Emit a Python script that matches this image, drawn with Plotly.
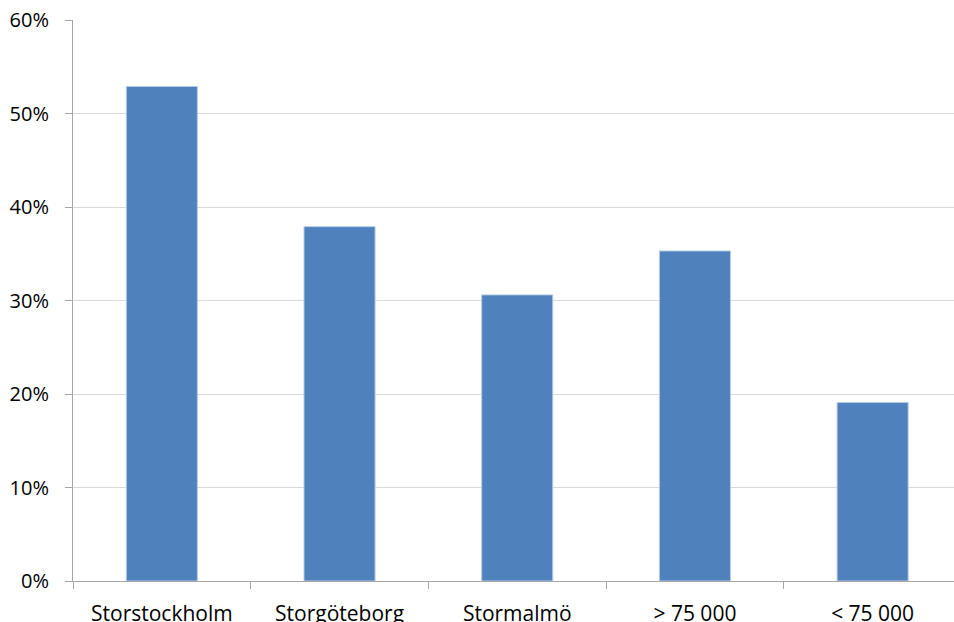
import plotly.graph_objects as go

categories = ["Storstockholm", "Storgöteborg", "Stormalmö", "> 75 000", "< 75 000"]
values = [0.529, 0.379, 0.306, 0.353, 0.191]
y_ticks = [0, 0.1, 0.2, 0.3, 0.4, 0.5, 0.6]
y_tick_labels = ["0%", "10%", "20%", "30%", "40%", "50%", "60%"]

fig = go.Figure(go.Bar(
    x=categories, y=values, width=0.4,
    marker=dict(color="#4F81BD", line=dict(color="#B9CDE5", width=1)),
))

family = "Open Sans, Liberation Sans, sans-serif"
fig.update_layout(
    width=954, height=622,
    margin=dict(l=73, r=0, t=20, b=41),
    paper_bgcolor="white", plot_bgcolor="white",
    showlegend=False, font=dict(family=family, size=20, color="#000000"),
    bargap=0.6,
)
fig.update_xaxes(
    type="category", range=[-0.5, 4.458], automargin=False,
    showline=True, linecolor="#A6A6A6", linewidth=1,
    ticks="outside", tickson="boundaries", ticklen=7, tickcolor="#A6A6A6",
    showgrid=False, ticklabelstandoff=14,
    tickfont=dict(family=family, size=21, color="#000000"),
)
fig.update_yaxes(
    range=[0, 0.6], tickvals=y_ticks, ticktext=y_tick_labels, automargin=False,
    showline=True, linecolor="#A6A6A6", linewidth=1,
    ticks="outside", ticklen=7, tickcolor="#A6A6A6",
    showgrid=True, gridcolor="#D9D9D9", gridwidth=1,
    zeroline=False, ticklabelstandoff=12,
    tickfont=dict(family=family, size=20, color="#000000"),
)
fig.write_html("out.html")
